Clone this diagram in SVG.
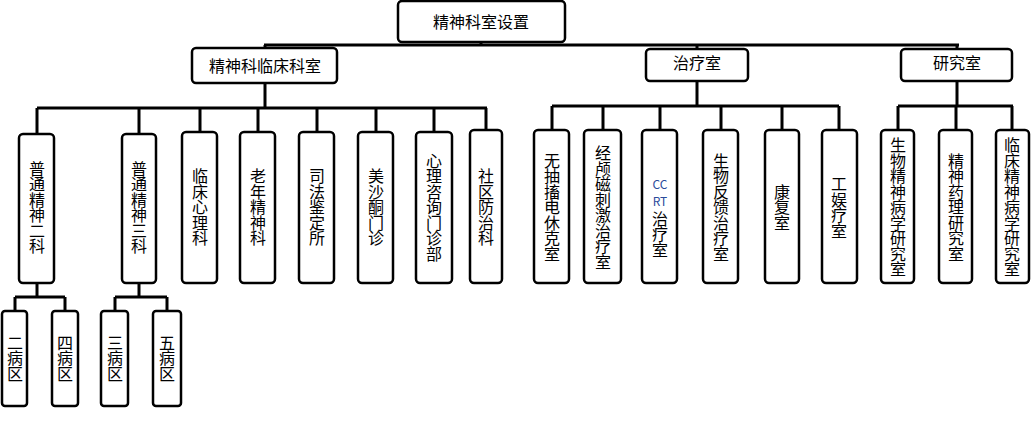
<svg xmlns="http://www.w3.org/2000/svg" width="1032" height="424" viewBox="0 0 1032 424">
<style>
rect{fill:#fff;stroke:#000;stroke-width:2.5}
text{font-family:"Noto Sans CJK SC","Liberation Sans",sans-serif;font-size:16px;fill:#000}
.v{writing-mode:vertical-rl;text-anchor:middle;letter-spacing:-0.5px}
.h{text-anchor:middle;dominant-baseline:central}
.s{font-size:12px;fill:#2a4b9b}
#c path{fill:none;stroke:#000;stroke-width:3}
</style>
<rect width="1032" height="424" style="fill:#fff;stroke:none"/>
<g id="c"><path d="M264 45H959M481 42V45M265 45V48M697 45V49M957 45V49
M265 83V108M37 108H487M37 108V134M139 108V134M200 108V132M258 108V132M317 108V132M376 108V132M434 108V132M486 108V132
M697 81V106M552 106H839M552 106V130M603 106V130M660 106V130M721 106V130M782 106V130M839 106V130
M957 81V106M898 106H1013M898 106V130M956 106V130M1012 106V130
M37 283V297M15 297H65M15 297V311M65 297V311M139 283V297M115 297H167M115 297V311M167 297V311"/></g>
<g id="root"><rect x="398" y="1" width="167" height="41" rx="4"/><text class="h" x="481" y="21">精神科室设置</text></g>
<g id="n1"><rect x="192" y="48" width="145" height="35" rx="4"/><text class="h" x="265" y="65">精神科临床科室</text></g>
<g id="n2"><rect x="646" y="49" width="102" height="32" rx="4"/><text class="h" x="697" y="62">治疗室</text></g>
<g id="n3"><rect x="901" y="49" width="111" height="32" rx="4"/><text class="h" x="957" y="62">研究室</text></g>
<g id="a1"><rect x="19" y="134" width="35" height="149" rx="4"/><text class="v" x="37" y="207">普通精神二科</text></g>
<g id="a2"><rect x="122" y="134" width="34" height="149" rx="4"/><text class="v" x="139" y="207">普通精神三科</text></g>
<g id="a3"><rect x="182" y="132" width="35" height="151" rx="4"/><text class="v" x="200" y="207">临床心理科</text></g>
<g id="a4"><rect x="240" y="132" width="35" height="151" rx="4"/><text class="v" x="258" y="207">老年精神科</text></g>
<g id="a5"><rect x="299" y="132" width="35" height="151" rx="4"/><text class="v" x="317" y="207">司法鉴定所</text></g>
<g id="a6"><rect x="358" y="132" width="35" height="151" rx="4"/><text class="v" x="376" y="207">美沙酮门诊</text></g>
<g id="a7"><rect x="416" y="132" width="36" height="151" rx="4"/><text class="v" x="434" y="207">心理咨询门诊部</text></g>
<g id="a8"><rect x="470" y="130" width="32" height="153" rx="4"/><text class="v" x="486" y="207">社区防治科</text></g>
<g id="b1"><rect x="2" y="311" width="25" height="95" rx="3"/><text class="v" x="15" y="358">二病区</text></g>
<g id="b2"><rect x="52" y="311" width="26" height="95" rx="3"/><text class="v" x="65" y="358">四病区</text></g>
<g id="b3"><rect x="101" y="311" width="27" height="95" rx="3"/><text class="v" x="115" y="358">三病区</text></g>
<g id="b4"><rect x="153" y="311" width="28" height="95" rx="3"/><text class="v" x="167" y="358">五病区</text></g>
<g id="t1"><rect x="534" y="130" width="35" height="153" rx="4"/><text class="v" x="552" y="207">无抽搐电休克室</text></g>
<g id="t2"><rect x="584" y="130" width="37" height="153" rx="4"/><text class="v" x="603" y="207">经颅磁刺激治疗室</text></g>
<g id="t3"><rect x="642" y="130" width="35" height="153" rx="4"/><text class="h s" x="660" y="183">CC</text><text class="h s" x="660" y="200">RT</text><text class="v" x="660" y="234">治疗室</text></g>
<g id="t4"><rect x="703" y="130" width="35" height="153" rx="4"/><text class="v" x="721" y="207">生物反馈治疗室</text></g>
<g id="t5"><rect x="765" y="130" width="34" height="153" rx="4"/><text class="v" x="782" y="207">康复室</text></g>
<g id="t6"><rect x="822" y="130" width="35" height="153" rx="4"/><text class="v" x="839" y="207">工娱疗室</text></g>
<g id="r1"><rect x="881" y="130" width="33" height="153" rx="4"/><text class="v" x="898" y="207">生物精神病学研究室</text></g>
<g id="r2"><rect x="939" y="130" width="33" height="153" rx="4"/><text class="v" x="956" y="207">精神药理研究室</text></g>
<g id="r3"><rect x="996" y="130" width="33" height="153" rx="4"/><text class="v" x="1012" y="207">临床精神病学研究室</text></g>
</svg>
